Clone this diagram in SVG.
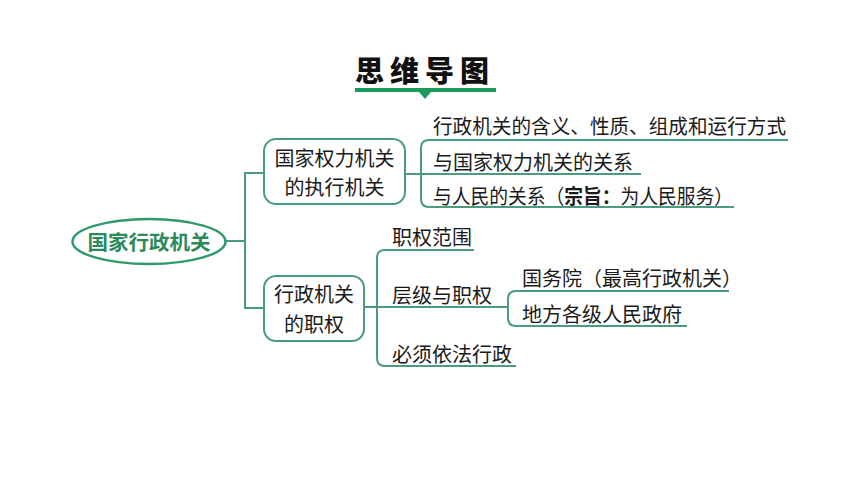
<svg xmlns="http://www.w3.org/2000/svg" width="860" height="484" viewBox="0 0 860 484">
<style>
.t{font-family:"Noto Sans CJK SC","Noto Sans",sans-serif;font-size:20px;fill:#1a1a1a;dominant-baseline:central}
.ln{fill:none;stroke:#4a9c80;stroke-width:2}
.box{fill:#fff;stroke:#4a9c80;stroke-width:2}
</style>
<rect width="860" height="484" fill="#fff"/>
<g id="title">
<text x="425" y="69" text-anchor="middle" style="font-family:'Noto Sans CJK SC',sans-serif;font-size:29px;font-weight:900;letter-spacing:6px;fill:#111;dominant-baseline:central">思维导图</text>
<rect x="355" y="88" width="141" height="4" fill="#1a9a5c"/>
<polygon points="419,92 431,92 425,99" fill="#1a9a5c"/>
</g>
<g id="connectors">
<path class="ln" d="M226,241 H245 M263,173 H245 V308 H264"/>
<path class="ln" d="M405,174 H641 M788,140 H429 Q421,140 421,148 V199 Q421,207 429,207 H734"/>
<path class="ln" d="M364,307 H508 M474,250 H385 Q377,250 377,258 V358 Q377,366 385,366 H516"/>
<path class="ln" d="M729,291 H516 Q508,291 508,299 V318 Q508,326 516,326 H687"/>
</g>
<g id="root">
<ellipse cx="149" cy="241.5" rx="76.5" ry="22.5" fill="#fff" stroke="#2e9a6a" stroke-width="2.5"/>
<text x="149" y="241" text-anchor="middle" class="t" style="fill:#2a8a5a;font-weight:bold;font-size:20.5px">国家行政机关</text>
</g>
<g id="n1">
<rect class="box" x="264" y="139" width="141" height="65" rx="12"/>
<text class="t" x="334.5" y="157" text-anchor="middle">国家权力机关</text>
<text class="t" x="334.5" y="186.5" text-anchor="middle">的执行机关</text>
</g>
<g id="n2">
<rect class="box" x="264" y="276" width="100" height="65" rx="12"/>
<text class="t" x="314" y="293.5" text-anchor="middle">行政机关</text>
<text class="t" x="314" y="323" text-anchor="middle">的职权</text>
</g>
<g id="n1a"><text class="t" x="433" y="125" textLength="353" lengthAdjust="spacingAndGlyphs">行政机关的含义、性质、组成和运行方式</text></g>
<g id="n1b"><text class="t" x="433" y="161">与国家权力机关的关系</text></g>
<g id="n1c"><text class="t" x="433" y="195" textLength="300" lengthAdjust="spacingAndGlyphs">与人民的关系（<tspan font-weight="bold">宗旨：</tspan>为人民服务）</text></g>
<g id="n2a"><text class="t" x="392" y="236">职权范围</text></g>
<g id="n2b"><text class="t" x="392" y="294">层级与职权</text></g>
<g id="n2b1"><text class="t" x="522" y="277">国务院（最高行政机关）</text></g>
<g id="n2b2"><text class="t" x="522" y="313">地方各级人民政府</text></g>
<g id="n2c"><text class="t" x="392" y="353">必须依法行政</text></g>
</svg>
